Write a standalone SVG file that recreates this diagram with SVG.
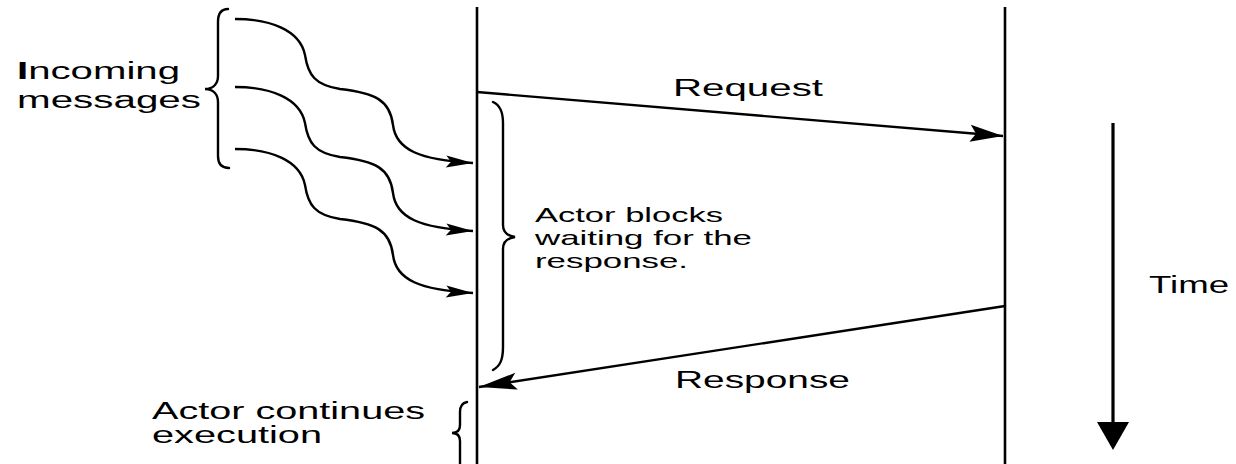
<svg xmlns="http://www.w3.org/2000/svg" width="1236" height="464" viewBox="0 0 1236 464">
<style>
  text { font-family: "Liberation Sans", Arial, sans-serif; font-size: 23px; fill: #000; }
  .small { font-size: 21px; }
  .life { stroke: #000; stroke-width: 2.6; fill: none; }
  .wire { stroke: #000; stroke-width: 2.4; fill: none; }
  .brace { stroke: #000; stroke-width: 2.4; fill: none; stroke-linecap: round; }
</style>
<defs>
  <marker id="headS" markerUnits="userSpaceOnUse" markerWidth="30" markerHeight="14" refX="27" refY="6" orient="auto" overflow="visible">
    <path d="M0,0 L27,6 L0,12 L5,6 Z" fill="#000"/>
  </marker>
  <marker id="headL" markerUnits="userSpaceOnUse" markerWidth="36" markerHeight="18" refX="33" refY="8.5" orient="auto" overflow="visible">
    <path d="M0,0 L33,8.5 L0,17 L6,8.5 Z" fill="#000"/>
  </marker>
  <marker id="headXL" markerUnits="userSpaceOnUse" markerWidth="40" markerHeight="18" refX="38" refY="8.5" orient="auto" overflow="visible">
    <path d="M0,0 L38,8.5 L0,17 L7,8.5 Z" fill="#000"/>
  </marker>
</defs>
<rect width="1236" height="464" fill="#fff"/>

<g id="actor-left">
  <line class="life" x1="477" y1="7" x2="477" y2="464"/>
</g>
<g id="actor-right">
  <line class="life" x1="1005" y1="7" x2="1005" y2="464"/>
</g>

<g id="incoming-label">
  <path class="brace" d="M228,9 C221,9 218,14 218,22 L218,76 C218,84 213,89 205,89 C213,89 218,94 218,102 L218,156 C218,164 222,168 229,168"/>
  <text x="17" y="79" textLength="163" lengthAdjust="spacingAndGlyphs"><tspan font-weight="bold">I</tspan>ncoming</text>
  <text x="17" y="108" textLength="184" lengthAdjust="spacingAndGlyphs">messages</text>
</g>

<g id="blocking-label">
  <path class="brace" d="M493,102 C500,105 503,112 503,123 L503,225 C503,232 508,236 515,237 C508,238 503,242 503,249 L503,347 C503,360 500,366 493,370"/>
  <text class="small" x="535" y="222" textLength="188" lengthAdjust="spacingAndGlyphs">Actor blocks</text>
  <text class="small" x="535" y="245" textLength="217" lengthAdjust="spacingAndGlyphs">waiting for the</text>
  <text class="small" x="535" y="268" textLength="153" lengthAdjust="spacingAndGlyphs">response.</text>
</g>

<g id="continues-label">
  <path class="brace" d="M467,402 C462,403 460,406 460,412 L460,425 C460,430 457,433 452,433 C457,433 460,436 460,441 L460,464"/>
  <text x="152" y="419" textLength="273" lengthAdjust="spacingAndGlyphs">Actor continues</text>
  <text x="152" y="443" textLength="170" lengthAdjust="spacingAndGlyphs">execution</text>
</g>

<g id="time-axis">
  <line x1="1113" y1="123" x2="1113" y2="424" stroke="#000" stroke-width="3.2"/>
  <polygon points="1097,422 1129,422 1113,450" fill="#000"/>
  <text x="1149" y="293" textLength="80" lengthAdjust="spacingAndGlyphs">Time</text>
</g>

<g id="connectors">
  <path class="wire" marker-end="url(#headS)" d="M235,19 C270,19 300,30 305,55 C308,75 315,85 340,89 C375,93 390,100 393,125 C396,150 420,160 473,163"/>
  <path class="wire" marker-end="url(#headS)" transform="translate(0,68)" d="M235,19 C270,19 300,30 305,55 C308,75 315,85 340,89 C375,93 390,100 393,125 C396,150 420,160 473,163"/>
  <path class="wire" marker-end="url(#headS)" transform="translate(0,130)" d="M235,19 C270,19 300,30 305,55 C308,75 315,85 340,89 C375,93 390,100 393,125 C396,150 420,160 473,163"/>
  <line class="wire" marker-end="url(#headL)" x1="477" y1="92" x2="1003" y2="136"/>
  <text x="673" y="96" textLength="150" lengthAdjust="spacingAndGlyphs">Request</text>
  <line class="wire" marker-end="url(#headXL)" x1="1005" y1="306" x2="479" y2="387"/>
  <text x="675" y="388" textLength="175" lengthAdjust="spacingAndGlyphs">Response</text>
</g>
</svg>
